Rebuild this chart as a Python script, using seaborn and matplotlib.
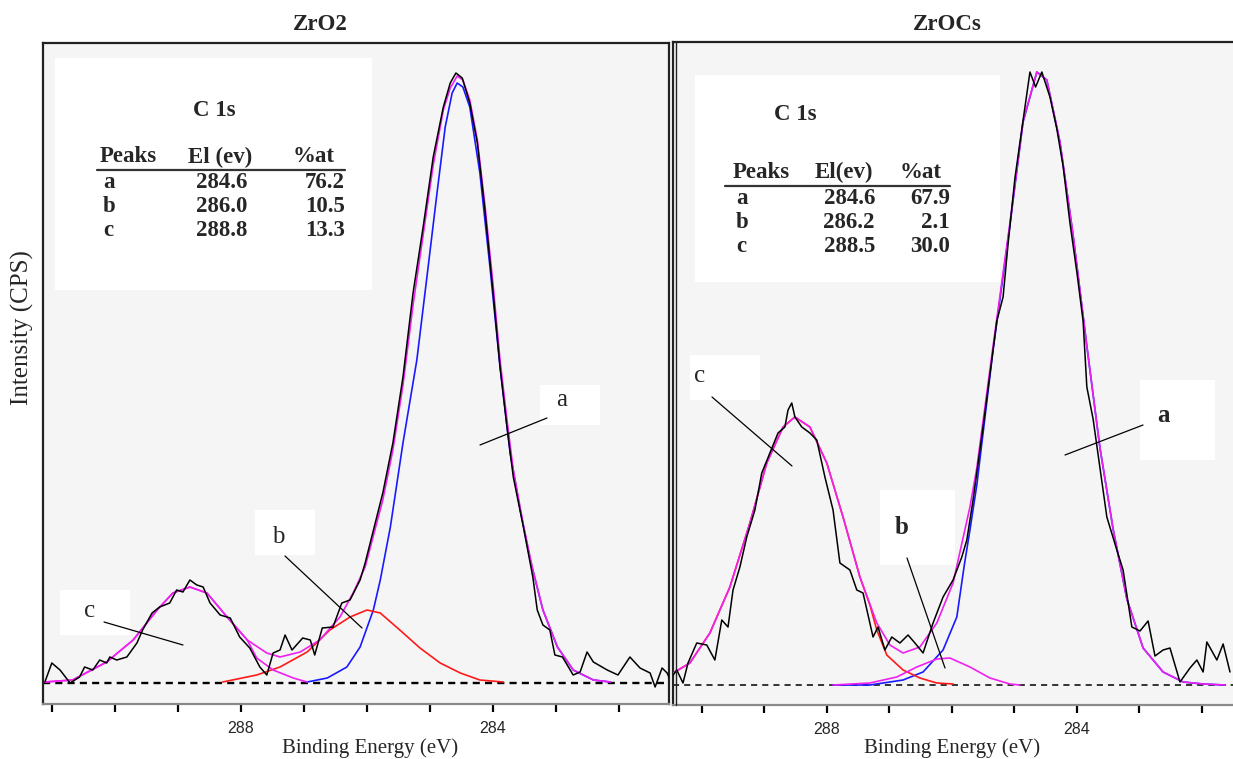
import matplotlib
matplotlib.use("Agg")
import matplotlib.pyplot as plt
from matplotlib.lines import Line2D
from matplotlib.patches import Rectangle
import seaborn as sns

# ---- ZrO2 panel (binding energy in eV, intensity in arbitrary counts above baseline) ----
zro2_raw_be = [291.11, 291.00, 290.87, 290.71, 290.56, 290.48, 290.35, 290.24, 290.13, 290.08,
               289.97, 289.81, 289.65, 289.56, 289.41, 289.29, 289.13, 289.02, 288.92, 288.81,
               288.70, 288.60, 288.49, 288.33, 288.17, 288.02, 287.86, 287.70, 287.59, 287.49,
               287.38, 287.30, 287.19, 287.02, 286.90, 286.83, 286.71, 286.54, 286.40, 286.27,
               286.11, 286.03, 285.95, 285.75, 285.59, 285.43, 285.27, 285.11, 284.95, 284.79,
               284.68, 284.59, 284.49, 284.37, 284.25, 284.13, 284.00, 283.89, 283.78, 283.68,
               283.52, 283.37, 283.30, 283.21, 283.10, 283.02, 282.90, 282.73, 282.62, 282.51,
               282.41, 282.19, 282.02, 281.83, 281.67, 281.51, 281.43, 281.32, 281.24, 281.19]
zro2_raw_cps = [1, 20, 13, 0, 6, 16, 13, 23, 20, 26,
                23, 26, 40, 53, 70, 76, 80, 93, 91, 103,
                98, 96, 80, 68, 65, 46, 35, 16, 8, 30,
                33, 48, 33, 45, 43, 28, 55, 56, 80, 83,
                103, 120, 140, 190, 240, 306, 390, 456, 526, 576,
                600, 610, 605, 580, 540, 473, 390, 316, 256, 206,
                156, 106, 73, 58, 53, 28, 26, 8, 11, 31,
                21, 13, 8, 26, 15, 10, -4, 15, 10, 3]

zro2_fit_be = [291.11, 290.67, 290.13, 289.71, 289.33, 289.08, 288.81, 288.54, 288.22, 287.90,
               287.59, 287.38, 287.06, 286.75, 286.43, 286.22, 286.03, 285.75, 285.59, 285.43,
               285.27, 285.11, 284.95, 284.79, 284.68, 284.57, 284.48, 284.37, 284.25, 284.13,
               284.00, 283.89, 283.78, 283.68, 283.52, 283.37, 283.21, 282.98, 282.73, 282.41, 282.14]
zro2_fit_cps = [1, 3, 21, 43, 73, 90, 96, 90, 66, 43,
                30, 26, 31, 43, 66, 90, 116, 183, 233, 298,
                378, 448, 518, 573, 595, 607, 603, 583, 543, 478,
                398, 323, 263, 213, 158, 113, 73, 36, 13, 3, 1]

zro2_a_be = [286.95, 286.63, 286.32, 286.11, 285.90, 285.79, 285.63, 285.43, 285.21, 285.05,
             284.89, 284.76, 284.65, 284.57, 284.48, 284.37, 284.21, 284.05, 283.89, 283.73,
             283.57, 283.41, 283.21, 282.98, 282.73, 282.41, 282.14]
zro2_a_cps = [1, 5, 16, 36, 73, 103, 156, 240, 323, 406,
              490, 556, 590, 600, 596, 576, 510, 416, 316, 230,
              173, 123, 73, 36, 13, 3, 1]
zro2_b_be = [288.29, 287.75, 287.38, 286.95, 286.59, 286.27, 286.00, 285.79, 285.48, 285.16,
             284.84, 284.52, 284.21, 283.84]
zro2_b_cps = [1, 8, 16, 31, 53, 66, 73, 70, 53, 35, 20, 10, 3, 1]
zro2_c_be = [291.11, 290.67, 290.13, 289.71, 289.33, 289.08, 288.81, 288.54, 288.22, 287.90,
             287.75, 287.49, 287.17, 286.95]
zro2_c_cps = [1, 3, 21, 43, 73, 90, 96, 90, 66, 43, 25, 13, 5, 1]

# ---- ZrOCs panel ----
zrocs_raw_be = [290.48, 290.40, 290.30, 290.22, 290.08, 289.92, 289.79, 289.68, 289.58, 289.50,
                289.39, 289.28, 289.15, 289.04, 288.91, 288.78, 288.67, 288.62, 288.56, 288.51,
                288.40, 288.27, 288.16, 288.03, 287.90, 287.79, 287.63, 287.52, 287.42, 287.26,
                287.18, 287.07, 286.96, 286.83, 286.70, 286.59, 286.46, 286.30, 286.14, 285.98,
                285.84, 285.76, 285.66, 285.50, 285.39, 285.28, 285.18, 285.10, 284.99, 284.88,
                284.75, 284.66, 284.56, 284.43, 284.32, 284.22, 284.11, 284.00, 283.90, 283.84,
                283.74, 283.63, 283.52, 283.36, 283.26, 283.12, 282.99, 282.86, 282.75, 282.62,
                282.51, 282.35, 282.19, 282.08, 281.98, 281.92, 281.76, 281.66, 281.55]
zrocs_raw_cps = [8, 15, 2, 22, 42, 40, 25, 65, 58, 95,
                 118, 148, 175, 212, 232, 252, 258, 275, 282, 268,
                 258, 252, 245, 208, 175, 122, 115, 95, 92, 48,
                 58, 35, 48, 42, 50, 42, 32, 62, 88, 105,
                 128, 145, 185, 258, 311, 364, 388, 441, 507, 556,
                 613, 598, 613, 588, 556, 519, 462, 413, 364, 298,
                 266, 217, 168, 135, 115, 58, 54, 64, 29, 35,
                 37, 3, 17, 25, 13, 43, 25, 41, 13]

zrocs_fit_be = [290.51, 290.19, 289.87, 289.55, 289.23, 288.96, 288.70, 288.51, 288.27, 288.00,
                287.74, 287.47, 287.20, 286.99, 286.78, 286.51, 286.24, 285.98, 285.71, 285.60,
                285.34, 285.07, 284.86, 284.64, 284.48, 284.27, 284.06, 283.84, 283.63, 283.42,
                283.20, 282.94, 282.62, 282.30, 281.98, 281.63]
zrocs_fit_cps = [10, 22, 52, 98, 162, 222, 258, 268, 258, 222,
                 168, 108, 62, 40, 32, 38, 62, 102, 178, 217,
                 339, 462, 564, 613, 605, 543, 450, 339, 237, 156,
                 86, 37, 13, 3, 1, 0]

zrocs_a_be = [287.90, 287.31, 286.78, 286.46, 286.14, 285.92, 285.80, 285.71, 285.60, 285.34,
              285.07, 284.86, 284.64, 284.48, 284.27, 284.06, 283.84, 283.63, 283.42, 283.20,
              282.94, 282.62, 282.30, 281.98, 281.63]
zrocs_a_cps = [0, 0, 5, 13, 35, 68, 120, 155, 200, 335,
               460, 563, 613, 605, 543, 450, 339, 237, 156, 86,
               37, 13, 3, 1, 0]
zrocs_b_be = [287.90, 287.31, 286.88, 286.56, 286.24, 286.03, 285.71, 285.39, 285.07, 284.91]
zrocs_b_cps = [0, 2, 8, 18, 26, 27, 18, 7, 1, 0]
zrocs_c_be = [290.51, 290.19, 289.87, 289.55, 289.23, 288.96, 288.70, 288.51, 288.27, 288.00,
              287.74, 287.47, 287.31, 287.20, 287.04, 286.78, 286.51, 286.24, 285.98]
zrocs_c_cps = [10, 22, 52, 98, 162, 222, 258, 268, 258, 222,
               168, 108, 80, 55, 30, 15, 7, 2, 1]

# ---- peak tables ----
peaks = ["a", "b", "c"]
zro2_el = ["284.6", "286.0", "288.8"]
zro2_at = ["76.2", "10.5", "13.3"]
zrocs_el = ["284.6", "286.2", "288.5"]
zrocs_at = ["67.9", "2.1", "30.0"]

W, H = 1233, 759
MAGENTA = "#f020f0"
BLUE = "#1a1aff"
RED = "#ff1a1a"

sns.set_style("white")
plt.rcParams["font.family"] = ["Liberation Serif", "DejaVu Serif"]
TICK_FONT = ["Liberation Sans Narrow", "Liberation Sans", "DejaVu Sans"]

fig = plt.figure(figsize=(W / 100, H / 100), dpi=100)


def fx(px):
    return px / W


def fy(py):
    return 1 - py / H


ax1 = fig.add_axes([fx(43), fy(704), fx(669) - fx(43), fy(43) - fy(704)])
ax2 = fig.add_axes([fx(673), fy(705), fx(1240) - fx(673), fy(42) - fy(705)])


def draw_panel(ax, raw, fit, comps, base_lw, base_dash):
    ax.set_facecolor("#f5f5f5")
    ax.axhline(0, color="black", lw=base_lw, ls=(0, base_dash), zorder=1)
    for be, cps, col in comps:
        sns.lineplot(x=be, y=cps, ax=ax, color=col, lw=1.2, estimator=None, sort=False, zorder=2)
    sns.lineplot(x=fit[0], y=fit[1], ax=ax, color=MAGENTA, lw=1.2, estimator=None, sort=False, zorder=3)
    sns.lineplot(x=raw[0], y=raw[1], ax=ax, color="black", lw=1.1, estimator=None, sort=False, zorder=4)
    ax.set_xlabel("")
    ax.set_ylabel("")
    ax.set_yticks([])
    for s in ax.spines.values():
        s.set_color("#222222")
        s.set_linewidth(1.6)
    ax.spines["bottom"].set_color("#8a8a8a")
    ax.tick_params(axis="x", direction="out", length=6, width=1.6, color="black", pad=6,
                   bottom=True)


draw_panel(ax1, (zro2_raw_be, zro2_raw_cps), (zro2_fit_be, zro2_fit_cps),
           [(zro2_a_be, zro2_a_cps, BLUE), (zro2_b_be, zro2_b_cps, RED), (zro2_c_be, zro2_c_cps, MAGENTA)],
           1.7, (3.0, 2.2))
draw_panel(ax2, (zrocs_raw_be, zrocs_raw_cps), (zrocs_fit_be, zrocs_fit_cps),
           [(zrocs_a_be, zrocs_a_cps, BLUE), (zrocs_c_be, zrocs_c_cps, RED), (zrocs_b_be, zrocs_b_cps, MAGENTA)],
           1.1, (4.0, 3.3))

ax1.set_xlim(291.14, 281.21)
ax1.set_ylim(-21, 640)
ax2.set_xlim(290.46, 281.39)
ax2.set_ylim(-20, 643)
ax2.spines["right"].set_visible(False)

for ax, ticks in [(ax1, list(range(291, 281, -1))), (ax2, list(range(290, 281, -1)))]:
    ax.set_xticks(ticks)
    ax.set_xticklabels([str(t) if t in (288, 284) else "" for t in ticks],
                       fontfamily=TICK_FONT, fontsize=11.5)

# white patches behind the tables and labels (scanned look)
for x0, y0, x1, y1 in [(55, 58, 372, 290), (695, 75, 1000, 282), (1140, 380, 1215, 460),
                       (880, 490, 955, 565), (690, 355, 760, 400), (540, 385, 600, 425),
                       (255, 510, 315, 555), (60, 590, 130, 635)]:
    ax = ax1 if x1 < 671 else ax2
    ax.add_patch(Rectangle((fx(x0), fy(y1)), fx(x1) - fx(x0), fy(y0) - fy(y1),
                           transform=fig.transFigure, facecolor="white", edgecolor="none", zorder=0.5))

# double border line on the left of the second panel
fig.add_artist(Line2D([fx(676), fx(676)], [fy(42), fy(705)], color="#222222", lw=1.0))

# titles and axis labels
fig.text(fx(320), fy(24), "ZrO2", fontsize=16.5, weight="bold", ha="center", va="center")
fig.text(fx(947), fy(25), "ZrOCs", fontsize=16.5, weight="bold", ha="center", va="center")
fig.text(fx(370), fy(748), "Binding Energy (eV)", fontsize=15, ha="center", va="center")
fig.text(fx(952), fy(748), "Binding Energy (eV)", fontsize=15, ha="center", va="center")
fig.text(fx(22), fy(328), "Intensity (CPS)", fontsize=18, rotation=90, ha="center", va="center")


def table(cx, cy_title, x_peaks, x_el, x_at, y_head, rule, rows_y, x_lab, x_val, x_pct, el, at, val_ha):
    kw = dict(fontsize=16.5, weight="bold", va="center")
    fig.text(fx(cx), fy(cy_title), "C 1s", ha="left", **kw)
    fig.text(fx(x_peaks), fy(y_head), "Peaks", ha="left", **kw)
    fig.text(fx(x_el[1]), fy(y_head), x_el[0], ha="left", **kw)
    fig.text(fx(x_at), fy(y_head), "%at", ha="left", **kw)
    fig.add_artist(Line2D([fx(rule[0]), fx(rule[1])], [fy(rule[2]), fy(rule[2])], color="#333333", lw=1.6))
    for p, e, a, y in zip(peaks, el, at, rows_y):
        fig.text(fx(x_lab), fy(y), p, ha="left", **kw)
        fig.text(fx(x_val), fy(y), e, ha=val_ha, **kw)
        fig.text(fx(x_pct), fy(y), a, ha="right", **kw)


table(193, 110, 100, ("El (ev)", 188), 293, 157, (97, 345, 170), [183, 207, 231],
      103, 222, 345, zro2_el, zro2_at, "center")
table(774, 115, 733, ("El(ev)", 815), 900, 172, (725, 950, 186), [198, 222, 246],
      736, 875, 950, zrocs_el, zrocs_at, "right")

# peak labels with pointer lines
labels = [("a", 562, 400, False, (480, 445, 547, 418)),
          ("b", 278, 537, False, (285, 556, 362, 628)),
          ("c", 90, 611, False, (104, 622, 183, 645)),
          ("c", 700, 376, False, (712, 397, 792, 466)),
          ("b", 902, 527, True, (907, 558, 945, 668)),
          ("a", 1163, 416, True, (1065, 455, 1143, 425))]
for txt, x, y, bold, (x0, y0, x1, y1) in labels:
    fig.text(fx(x), fy(y), txt, fontsize=18, weight="bold" if bold else "normal",
             ha="center", va="center")
    fig.add_artist(Line2D([fx(x0), fx(x1)], [fy(y0), fy(y1)], color="black", lw=0.9))

fig.savefig("out.png", dpi=100, facecolor="white")
